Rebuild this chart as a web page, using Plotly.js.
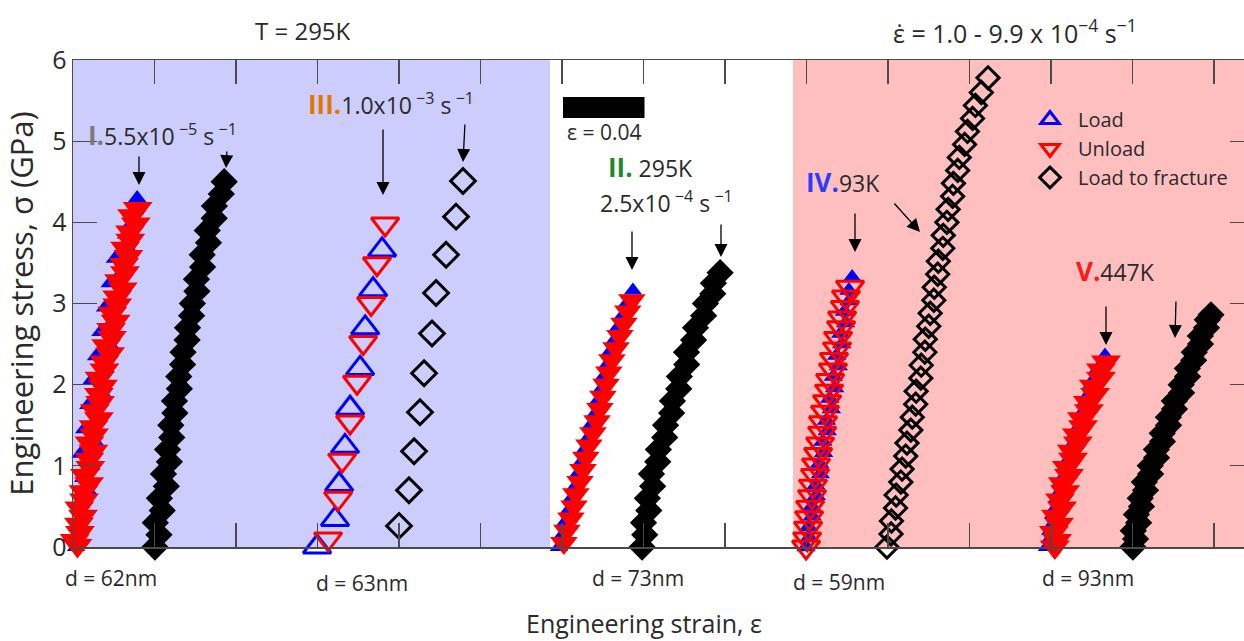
<!DOCTYPE html>
<html><head><meta charset="utf-8">
<script src="https://cdn.plot.ly/plotly-3.0.1.min.js"></script>
<style>html,body{margin:0;padding:0;overflow:hidden;background:#fff}#chart{width:1254px;height:641px}</style>
</head><body><div id="chart"></div>
<script>
// ---------------- DATA (strain relative to each sample's start, stress in GPa) ----------------
const seriesNames = ['Load', 'Unload', 'Load to fracture'];
const sampleLabels = ['d = 62nm', 'd = 63nm', 'd = 73nm', 'd = 59nm', 'd = 93nm'];
const yTickVals = [0, 1, 2, 3, 4, 5, 6];

// horizontal display offsets of each curve (strain)
const offsetsLoad = [0.0015, 0.1198, 0.2380, 0.3598, 0.4780];   // I, III, II, IV, V
const offsetsFrac = [0.0402, 0.1600, 0.2793, 0.3995, 0.5202];

// I. 5.5e-5 /s
const stressI_load = [0,0.1,0.25,0.4,0.55,0.7,0.85,1.0,1.15,1.3,1.45,1.6,1.75,1.9,2.05,2.2,2.35,2.5,2.65,2.8,2.95,3.1,3.25,3.4,3.55,3.7,3.85,4.0,4.15,4.3];
const strainI_load = [0.0000,0.0020,0.0005,0.0038,0.0020,0.0058,0.0035,0.0075,0.0022,0.0092,0.0040,0.0108,0.0060,0.0128,0.0075,0.0145,0.0098,0.0165,0.0120,0.0185,0.0142,0.0205,0.0165,0.0228,0.0190,0.0250,0.0245,0.0275,0.0290,0.0300];
const stressI_unload = [4.17,4.08,3.98,3.88,3.78,3.68,3.58,3.48,3.38,3.28,3.18,3.08,2.98,2.88,2.78,2.68,2.58,2.48,2.38,2.28,2.18,2.08,1.98,1.88,1.78,1.68,1.58,1.48,1.38,1.28,1.18,1.08,0.98,0.88,0.78,0.68,0.58,0.48,0.38,0.28,0.18,0.08,0.02];
const strainI_unload = [0.0302,0.0275,0.0293,0.0265,0.0266,0.0241,0.0257,0.0236,0.0240,0.0211,0.0229,0.0202,0.0202,0.0178,0.0194,0.0172,0.0176,0.0148,0.0167,0.0139,0.0139,0.0115,0.0132,0.0112,0.0118,0.0092,0.0112,0.0086,0.0088,0.0066,0.0085,0.0065,0.0070,0.0044,0.0064,0.0037,0.0039,0.0016,0.0034,0.0014,0.0019,-0.0007,0.0007];
const stressI_frac = [0,0.15,0.3,0.45,0.6,0.75,0.9,1.05,1.2,1.35,1.5,1.65,1.8,1.95,2.1,2.25,2.4,2.55,2.7,2.85,3.0,3.15,3.3,3.45,3.6,3.75,3.9,4.05,4.2,4.35,4.5];
const strainI_frac = [0.0000,0.0020,0.0002,0.0036,0.0022,0.0056,0.0042,0.0071,0.0062,0.0083,0.0078,0.0098,0.0096,0.0120,0.0117,0.0136,0.0138,0.0158,0.0160,0.0180,0.0184,0.0206,0.0204,0.0234,0.0232,0.0263,0.0257,0.0291,0.0292,0.0326,0.0340];

// III. 1.0e-3 /s
const stressIII_load = [0,0.34,0.77,1.24,1.71,2.20,2.70,3.17,3.66];
const strainIII_load = [0,0.0088,0.0108,0.0137,0.0162,0.0211,0.0236,0.0275,0.0319];
const stressIII_unload = [3.98,3.49,3.0,2.52,2.03,1.54,1.07,0.6,0.1];
const strainIII_unload = [0.0334,0.0294,0.0265,0.0226,0.0196,0.0162,0.0123,0.0103,0.0054];
const stressIII_frac = [0.26,0.70,1.18,1.66,2.14,2.63,3.13,3.60,4.07,4.51];
const strainIII_frac = [0,0.0049,0.0074,0.0103,0.0123,0.0162,0.0182,0.0231,0.0280,0.0314];

// II. 295K, 2.5e-4 /s
const stressII_load = [0,0.15,0.3,0.45,0.6,0.75,0.9,1.05,1.2,1.35,1.5,1.65,1.8,1.95,2.1,2.25,2.4,2.55,2.7,2.85,3.0,3.16];
const strainII_load = [0.0005,0.0022,0.0032,0.0051,0.0066,0.0085,0.0096,0.0115,0.0130,0.0149,0.0160,0.0184,0.0194,0.0213,0.0224,0.0242,0.0253,0.0277,0.0292,0.0316,0.0337,0.0368];
const stressII_unload = [3.04,2.9,2.75,2.6,2.45,2.3,2.15,2.0,1.85,1.7,1.55,1.4,1.25,1.1,0.95,0.8,0.65,0.5,0.35,0.2,0.05,-0.03];
const strainII_unload = [0.0363,0.0343,0.0324,0.0304,0.0285,0.0265,0.0250,0.0236,0.0221,0.0206,0.0192,0.0172,0.0152,0.0137,0.0123,0.0108,0.0088,0.0079,0.0064,0.0044,0.0029,0.0025];
const stressII_frac = [0,0.15,0.3,0.45,0.6,0.75,0.9,1.05,1.2,1.35,1.5,1.65,1.8,1.95,2.1,2.25,2.4,2.55,2.7,2.85,3.0,3.12,3.25,3.38];
const strainII_frac = [0,0.0013,0.0007,0.0033,0.0026,0.0052,0.0046,0.0077,0.0080,0.0111,0.0115,0.0145,0.0149,0.0180,0.0183,0.0219,0.0218,0.0253,0.0262,0.0302,0.0311,0.0347,0.0350,0.0383];

// IV. 93K
const stressIV_load = [0,0.12,0.25,0.38,0.5,0.63,0.76,0.9,1.03,1.16,1.3,1.43,1.56,1.7,1.83,1.96,2.1,2.23,2.36,2.5,2.63,2.76,2.9,3.03,3.16,3.32];
const strainIV_load = [0,0.0016,0.0012,0.0030,0.0028,0.0050,0.0048,0.0070,0.0066,0.0086,0.0082,0.0104,0.0100,0.0124,0.0116,0.0140,0.0134,0.0158,0.0150,0.0175,0.0170,0.0194,0.0188,0.0212,0.0210,0.0226];
const stressIV_unload = [3.2,3.08,2.95,2.82,2.7,2.57,2.44,2.31,2.18,2.05,1.92,1.79,1.66,1.53,1.4,1.27,1.14,1.01,0.88,0.75,0.62,0.49,0.36,0.23,0.1,0.0];
const strainIV_unload = [0.0216,0.0196,0.0191,0.0177,0.0172,0.0157,0.0152,0.0137,0.0132,0.0118,0.0113,0.0103,0.0093,0.0083,0.0079,0.0069,0.0059,0.0049,0.0044,0.0034,0.0029,0.0020,0.0015,0.0010,0.0005,0];
const stressIV_frac = [0,0.16,0.32,0.48,0.64,0.8,0.96,1.12,1.28,1.44,1.6,1.76,1.92,2.08,2.24,2.4,2.56,2.72,2.88,3.04,3.2,3.36,3.52,3.68,3.84,4.0,4.16,4.32,4.48,4.64,4.8,4.96,5.12,5.28,5.44,5.6,5.78];
const strainIV_frac = [0,0.0020,0.0022,0.0042,0.0045,0.0068,0.0074,0.0092,0.0098,0.0117,0.0124,0.0141,0.0143,0.0166,0.0168,0.0186,0.0188,0.0205,0.0212,0.0230,0.0232,0.0249,0.0252,0.0274,0.0276,0.0294,0.0300,0.0322,0.0326,0.0347,0.0355,0.0381,0.0395,0.0420,0.0434,0.0463,0.0496];

// V. 447K
const stressV_load = [0,0.1,0.2,0.3,0.4,0.5,0.6,0.7,0.8,0.9,1.0,1.1,1.2,1.3,1.4,1.5,1.6,1.7,1.8,1.9,2.0,2.1,2.2,2.36];
const strainV_load = [0,0.0014,0.0016,0.0033,0.0030,0.0048,0.0050,0.0068,0.0070,0.0092,0.0094,0.0112,0.0119,0.0136,0.0143,0.0161,0.0168,0.0186,0.0192,0.0210,0.0217,0.0240,0.0251,0.0285];
const stressV_unload = [2.28,2.18,2.08,1.98,1.88,1.78,1.68,1.58,1.48,1.38,1.28,1.18,1.08,0.98,0.88,0.78,0.68,0.58,0.48,0.38,0.28,0.18,0.08,0];
const strainV_unload = [0.0290,0.0265,0.0265,0.0230,0.0236,0.0201,0.0206,0.0172,0.0177,0.0147,0.0152,0.0122,0.0128,0.0098,0.0108,0.0078,0.0089,0.0064,0.0074,0.0044,0.0059,0.0034,0.0049,0.0039];
const stressV_frac = [0,0.1,0.2,0.3,0.4,0.5,0.6,0.7,0.8,0.9,1.0,1.1,1.2,1.3,1.4,1.5,1.6,1.7,1.8,1.9,2.0,2.1,2.2,2.3,2.4,2.5,2.6,2.7,2.8,2.86];
const strainV_frac = [0,0.0013,0.0002,0.0028,0.0017,0.0042,0.0036,0.0062,0.0056,0.0087,0.0085,0.0116,0.0115,0.0145,0.0144,0.0175,0.0174,0.0204,0.0203,0.0239,0.0237,0.0268,0.0267,0.0298,0.0301,0.0332,0.0331,0.0361,0.0365,0.0383];

const scaleBarStrain = 0.04;

// ---------------- LAYOUT HELPERS ----------------
const FONT = '"Open Sans", "DejaVu Sans", sans-serif';
const TXT = '#2a2a2a';
const L = 73, T = 60, B = 547, R = 1254;
const W = R - L, H = B - T;
const pxPerTick = 81.5, tickStep = 0.04;
const xMax = W / pxPerTick * tickStep;
const xp = px => (px - L) / W;
const yp = py => (B - py) / H;
const xs = px => (px - L) / pxPerTick * tickStep; // pixel -> strain

const BLUE = '#0000ff', RED = '#ff0000', BLACK = '#000000';

function tr(strain, stress, off, name, group, marker, legend, rank) {
  return {
    type: 'scatter', mode: 'markers',
    x: strain.map(v => v + off), y: stress,
    name: name, legendgroup: group, showlegend: !!legend, legendrank: rank,
    marker: marker, cliponaxis: false, hoverinfo: 'x+y'
  };
}
const mBlueDense = {symbol: 'triangle-up', size: 16, color: BLUE, line: {width: 0}};
const mBlueOpen = {symbol: 'triangle-up-open', size: 24, color: BLUE, line: {width: 3}};
const mRedDense = {symbol: 'triangle-down', size: 26, color: RED, line: {width: 0}};
const mRedOpen = {symbol: 'triangle-down-open', size: 24, color: RED, line: {width: 3}};
const mBlackDense = {symbol: 'diamond', size: 21, color: BLACK, line: {width: 0}};
const mBlackOpen = {symbol: 'diamond-open', size: 17, color: BLACK, line: {width: 3}};
const mBlackOpenL = {symbol: 'diamond-open', size: 19, color: BLACK, line: {width: 3}};

const data = [
  tr(strainI_load, stressI_load, offsetsLoad[0], seriesNames[0], 'load', mBlueDense),
  tr(strainI_unload, stressI_unload, offsetsLoad[0], seriesNames[1], 'unload', mRedDense),
  tr(strainI_frac, stressI_frac, offsetsFrac[0], seriesNames[2], 'frac', mBlackDense),
  tr(strainIII_load, stressIII_load, offsetsLoad[1], seriesNames[0], 'load', mBlueOpen, true, 1),
  tr(strainIII_unload, stressIII_unload, offsetsLoad[1], seriesNames[1], 'unload', mRedOpen, true, 2),
  tr(strainIII_frac, stressIII_frac, offsetsFrac[1], seriesNames[2], 'frac', mBlackOpenL, true, 3),
  tr(strainII_load, stressII_load, offsetsLoad[2], seriesNames[0], 'load', mBlueDense),
  tr(strainII_unload, stressII_unload, offsetsLoad[2], seriesNames[1], 'unload', {symbol: 'triangle-down', size: 24, color: RED, line: {width: 0}}),
  tr(strainII_frac, stressII_frac, offsetsFrac[2], seriesNames[2], 'frac', mBlackDense),
  tr(strainIV_load, stressIV_load, offsetsLoad[3], seriesNames[0], 'load', {symbol: 'triangle-up', size: 17, color: BLUE, line: {width: 0}}),
  tr(strainIV_unload, stressIV_unload, offsetsLoad[3], seriesNames[1], 'unload', mRedOpen),
  tr(strainIV_frac, stressIV_frac, offsetsFrac[3], seriesNames[2], 'frac', mBlackOpen),
  tr(strainV_load, stressV_load, offsetsLoad[4], seriesNames[0], 'load', mBlueDense),
  tr(strainV_unload, stressV_unload, offsetsLoad[4], seriesNames[1], 'unload', mRedDense),
  tr(strainV_frac, stressV_frac, offsetsFrac[4], seriesNames[2], 'frac', mBlackDense)
];

function label(px, py, text, size, anchor) {
  return {xref: 'paper', yref: 'paper', x: xp(px), y: yp(py), text: text, showarrow: false,
          xanchor: anchor || 'left', yanchor: 'middle', font: {family: FONT, size: size || 23, color: TXT}};
}
function arrow(tx, ty, hx, hy) {
  return {xref: 'paper', yref: 'paper', x: xp(hx), y: yp(hy), ax: tx - hx, ay: ty - hy, text: '',
          showarrow: true, arrowhead: 2, arrowsize: 2, arrowwidth: 1.3, arrowcolor: '#000', standoff: 0};
}
const rn = (t, c) => "<b><span style='color:" + c + ";font-size:26px'>" + t + "</span></b>";

const annotations = [
  label(303, 30, 'T = 295K', 24, 'center'),
  label(1015, 31, 'ε̇ = 1.0 - 9.9 x 10<sup>−4</sup> s<sup>−1</sup>', 25, 'center'),
  label(86, 135, rn('I.', '#7a7a7a') + '5.5x10<sup> −5</sup> s<sup> −1</sup>'),
  label(306, 104, rn('III.', '#e07800') + '1.0x10<sup> −3</sup> s<sup> −1</sup>'),
  label(606, 167, rn('II.', '#1e8a2e') + ' 295K'),
  label(598, 202, '2.5x10<sup> −4</sup> s<sup> −1</sup>'),
  label(804, 182, rn('IV.', '#2b3cff') + '93K'),
  label(1074, 271, rn('V.', '#ff1a1a') + '447K'),
  label(604, 132, 'ε = 0.04', 21, 'center'),
  label(111, 578, sampleLabels[0], 21, 'center'),
  label(362, 583, sampleLabels[1], 21, 'center'),
  label(638, 578, sampleLabels[2], 21, 'center'),
  label(839, 582, sampleLabels[3], 21, 'center'),
  label(1088, 578, sampleLabels[4], 21, 'center'),
  arrow(139, 155, 139, 185),
  arrow(227, 150, 226, 168),
  arrow(383, 128, 383, 195),
  arrow(465, 123, 463, 162),
  arrow(632, 230, 632, 270),
  arrow(721, 223, 721, 257),
  arrow(855, 212, 855, 252),
  arrow(893, 202, 920, 232),
  arrow(1106, 305, 1106, 345),
  arrow(1176, 300, 1175, 338)
];

const shapes = [
  {type: 'rect', layer: 'below', xref: 'x', yref: 'paper', x0: 0, x1: xs(550), y0: 0, y1: 1,
   fillcolor: '#ccccfd', line: {width: 0}},
  {type: 'rect', layer: 'below', xref: 'x', yref: 'paper', x0: xs(793), x1: xMax, y0: 0, y1: 1,
   fillcolor: '#ffbfbf', line: {width: 0}},
  {type: 'rect', layer: 'above', xref: 'x', yref: 'paper', x0: xs(563), x1: xs(563) + scaleBarStrain,
   y0: yp(118), y1: yp(97), fillcolor: '#000', line: {width: 0}}
];

const axisCommon = {
  showgrid: false, zeroline: false, showline: true, linecolor: '#4a4a4a', linewidth: 1.5,
  ticks: 'inside', ticklen: 24, tickwidth: 1.2, tickcolor: '#4a4a4a', mirror: 'ticks'
};

const layout = {
  width: 1254, height: 641,
  margin: {l: L, r: 0, t: T, b: 641 - B},
  paper_bgcolor: '#fff', plot_bgcolor: '#fff',
  font: {family: FONT, color: TXT},
  showlegend: true,
  legend: {x: xp(1022), y: yp(100), xanchor: 'left', yanchor: 'top', bgcolor: 'rgba(0,0,0,0)',
           font: {family: FONT, size: 20, color: TXT}, tracegroupgap: 5, traceorder: 'normal', itemwidth: 46},
  xaxis: Object.assign({}, axisCommon, {range: [0, xMax], tick0: 0, dtick: tickStep, showticklabels: false,
           title: {text: 'Engineering strain, ε&nbsp;&nbsp;&nbsp;&nbsp;&nbsp;&nbsp;', font: {family: FONT, size: 25, color: TXT}, standoff: 68}}),
  yaxis: Object.assign({}, axisCommon, {range: [0, 6], tickvals: yTickVals, tickfont: {family: FONT, size: 25, color: TXT},
           title: {text: 'Engineering stress, σ (GPa)', font: {family: FONT, size: 31, color: TXT}, standoff: 9}}),
  annotations: annotations,
  shapes: shapes
};

Plotly.newPlot('chart', data, layout, {displayModeBar: false, staticPlot: true});
</script>
</body></html>
